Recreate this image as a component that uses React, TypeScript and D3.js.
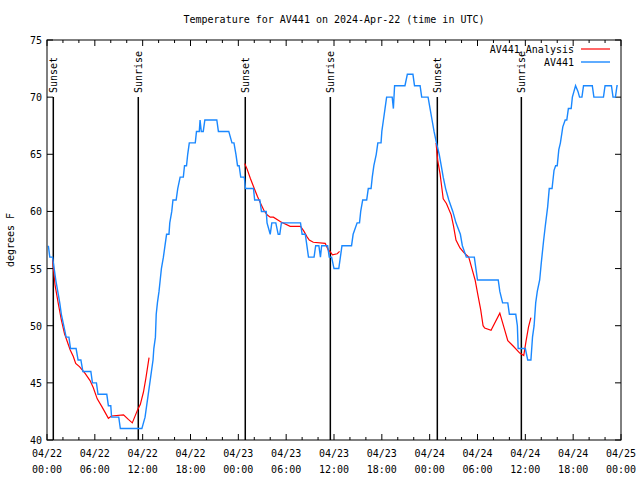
import React from "react";
import * as d3 from "d3";

const W = 640;
const H = 480;
const M = { left: 47, right: 621, top: 40, bottom: 440 };

// hours since 2024-04-22 00:00 UTC, temperature in F
const obsHours = [0.17,0.35,0.7,0.9,1.1,1.35,1.6,1.8,2.1,2.4,2.75,2.95,3.65,3.9,4.25,4.5,5.5,5.7,6.2,6.4,7.5,7.7,8.0,8.1,9.0,9.2,11.9,12.3,12.5,12.7,12.9,13.1,13.3,13.4,13.6,13.7,13.85,14.05,14.2,14.35,14.6,14.8,15.0,15.3,15.4,15.65,15.8,16.2,16.4,16.7,17.1,17.25,17.5,17.65,17.85,18.6,18.75,19.1,19.2,19.35,19.6,19.8,21.3,21.5,22.8,23.2,23.45,23.7,23.9,24.1,24.3,24.75,24.9,25.9,26.05,26.7,26.9,27.5,27.6,28.0,28.2,28.7,29.0,29.2,29.4,31.8,32.0,32.4,32.6,32.8,33.5,33.7,34.1,34.3,34.45,35.2,35.4,35.7,36.0,36.6,36.8,37.0,38.2,38.4,38.9,39.2,39.35,39.6,40.1,40.3,40.65,40.8,41.0,41.3,41.5,41.9,42.0,42.2,42.4,42.6,43.3,43.45,43.6,44.9,45.2,45.9,46.1,46.8,47.0,47.8,48.05,48.3,48.55,48.85,49.2,49.45,49.7,50.0,50.4,50.9,51.3,51.85,52.1,52.6,53.6,53.8,54.0,56.6,56.8,57.15,57.8,58.0,58.8,59.0,59.1,60.0,60.3,60.7,60.9,61.1,61.3,61.5,61.8,62.0,62.3,62.5,62.8,63.0,63.35,63.6,63.8,64.0,64.2,64.4,64.7,65.0,65.2,65.4,65.75,65.9,66.1,66.3,66.6,66.8,67.1,67.3,68.4,68.6,69.8,70.0,70.8,71.0,71.3,71.5,71.6];
const obsTemps = [57,56,56,55,54,53,52,51,50,49,49,48,48,47,47,46,46,45,45,44,44,43,43,42,42,41,41,42,43,44,45,46,47,48,49,51,52,53,54,55,56,57,58,58,59,60,61,61,62,63,63,64,64,65,66,66,67,67,68,67,67,68,68,67,67,66,66,65,64,64,63,63,62,62,61,61,60,60,59,58,59,59,58,58,59,59,58,58,57,56,56,57,57,56,57,57,56,56,55,55,56,57,57,58,59,59,60,61,61,62,62,63,64,65,66,66,67,68,69,70,70,69,71,71,72,72,71,71,70,70,69,68,67,66,65,64,63,62,61,60,59,58,57,56,56,55,54,54,53,52,52,51,51,50,48,48,47,47,49,50,52,53,54,55.5,57.5,58.7,60.4,62,62,63.6,64,64,65.4,66,67.4,68,68,69,69,70,70.5,71,70.5,70,70,71,71,70,70,71,71,70,70,71,71];

const anaHours1 = [0.7,1.0,1.4,1.8,2.2,2.9,3.3,3.6,4.1,4.8,5.4,5.8,6.3,6.9,7.7,8.1,9.6,10.2,10.7,11.4,11.7,12.1,12.4,12.8];
const anaTemps1 = [55.8,53.6,52,50.5,49.3,47.9,47.3,46.7,46.4,45.8,45.2,44.6,43.6,42.9,41.9,42.1,42.2,41.8,41.5,42.7,43.1,44.2,45.4,47.2];
const anaHours2 = [24.8,25.1,25.5,26.0,26.4,26.8,27.2,27.6,28.0,28.4,29.3,30.5,31.8,32.2,32.6,32.9,33.4,34.9,35.3,35.5,35.8,36.4,36.7];
const anaTemps2 = [64.2,63.7,62.9,62.0,61.3,60.7,60.1,59.7,59.5,59.5,59.1,58.7,58.7,58.3,57.8,57.5,57.3,57.2,56.6,56.5,56.2,56.3,56.5];
const anaHours3 = [48.8,49.0,49.3,49.5,49.7,50.1,50.7,51.0,51.3,51.8,52.3,52.9,53.3,53.7,54.1,54.4,54.7,54.9,55.7,56.8,57.3,57.8,58.5,59.3,59.8,60.1,60.4,60.7];
const anaTemps3 = [66.0,64.5,63.3,62.2,61.1,60.7,59.7,58.7,57.5,56.8,56.4,56.0,55.0,54.0,52.5,51.4,50.0,49.8,49.6,51.1,49.9,48.7,48.2,47.6,47.4,48.7,49.9,50.7];

const sunEventHours = [0.79, 11.45, 24.87, 35.54, 48.96, 59.5];
const sunEventLabels = ["Sunset", "Sunrise", "Sunset", "Sunrise", "Sunset", "Sunrise"];

const xTickHours = [0, 6, 12, 18, 24, 30, 36, 42, 48, 54, 60, 66, 72];
const xTickDates = ["04/22","04/22","04/22","04/22","04/23","04/23","04/23","04/23","04/24","04/24","04/24","04/24","04/25"];
const xTickTimes = ["00:00","06:00","12:00","18:00","00:00","06:00","12:00","18:00","00:00","06:00","12:00","18:00","00:00"];
const yTicks = [40, 45, 50, 55, 60, 65, 70, 75];

const FONT = "'DejaVu Sans Mono', monospace";

export default function App() {
  const x = d3.scaleLinear().domain([0, 72]).range([M.left, M.right]);
  const y = d3.scaleLinear().domain([40, 75]).range([M.bottom, M.top]);
  const line = d3
    .line<[number, number]>()
    .x((d) => x(d[0]))
    .y((d) => y(d[1]));
  const zip = (a: number[], b: number[]) => a.map((h, i) => [h, b[i]] as [number, number]);
  const obs = zip(obsHours, obsTemps);
  const anaSegs = [zip(anaHours1, anaTemps1), zip(anaHours2, anaTemps2), zip(anaHours3, anaTemps3)];
  const minorHours = d3.range(0, 73, 2).filter((h) => h % 6 !== 0);

  return (
    <svg width={W} height={H} style={{ position: "absolute", left: 0, top: 0, background: "#fff" }}
      fontFamily={FONT} fontSize={10}>
      <rect x={0} y={0} width={W} height={H} fill="#fff" />
      <text x={334} y={23} textAnchor="middle">Temperature for AV441 on 2024-Apr-22 (time in UTC)</text>

      {/* ticks */}
      {xTickHours.map((h, i) => (
        <g key={"xt" + i}>
          <line x1={x(h)} x2={x(h)} y1={M.bottom} y2={M.bottom - 6} stroke="#000" />
          <line x1={x(h)} x2={x(h)} y1={M.top} y2={M.top + 6} stroke="#000" />
          <text x={x(h)} y={457} textAnchor="middle">{xTickDates[i]}</text>
          <text x={x(h)} y={473} textAnchor="middle">{xTickTimes[i]}</text>
        </g>
      ))}
      {minorHours.map((h) => (
        <g key={"mt" + h}>
          <line x1={x(h)} x2={x(h)} y1={M.bottom} y2={M.bottom - 3} stroke="#000" />
          <line x1={x(h)} x2={x(h)} y1={M.top} y2={M.top + 3} stroke="#000" />
        </g>
      ))}
      {yTicks.map((v) => (
        <g key={"yt" + v}>
          <line x1={M.left} x2={M.left + 6} y1={y(v)} y2={y(v)} stroke="#000" />
          <line x1={M.right} x2={M.right - 6} y1={y(v)} y2={y(v)} stroke="#000" />
          <text x={42} y={y(v) + 4} textAnchor="end">{v}</text>
        </g>
      ))}
      <text transform={`translate(14,240) rotate(-90)`} textAnchor="middle">degrees F</text>

      {/* sunrise / sunset */}
      {sunEventHours.map((h, i) => (
        <g key={"se" + i}>
          <line x1={x(h)} x2={x(h)} y1={97} y2={M.bottom} stroke="#000" strokeWidth={1.5} />
          <text transform={`translate(${x(h) + 4},93) rotate(-90)`} textAnchor="start">{sunEventLabels[i]}</text>
        </g>
      ))}

      {/* series */}
      {anaSegs.map((s, i) => (
        <path key={"a" + i} d={line(s) || ""} fill="none" stroke="#ff0000" strokeWidth={1.2} />
      ))}
      <path d={line(obs) || ""} fill="none" stroke="#1a88ff" strokeWidth={1.4} />

      {/* legend */}
      <text x={574} y={53} textAnchor="end">AV441_Analysis</text>
      <line x1={581} x2={610} y1={49} y2={49} stroke="#ff0000" strokeWidth={1.2} />
      <text x={574} y={66} textAnchor="end">AV441</text>
      <line x1={581} x2={610} y1={62} y2={62} stroke="#1a88ff" strokeWidth={1.4} />

      <rect x={M.left} y={M.top} width={M.right - M.left} height={M.bottom - M.top} fill="none" stroke="#000" />
    </svg>
  );
}
